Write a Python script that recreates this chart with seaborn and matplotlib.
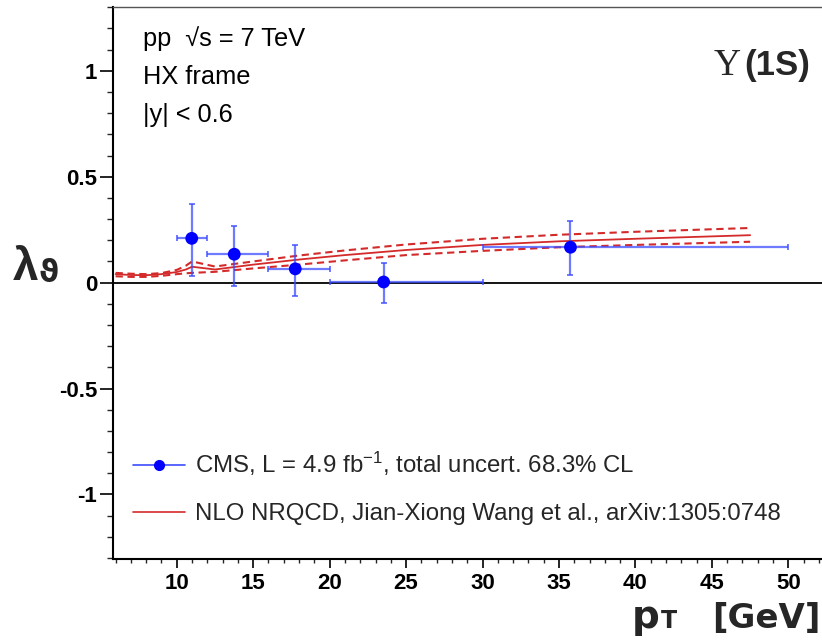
import numpy as np
import pandas as pd
import matplotlib
matplotlib.use("Agg")
import matplotlib.pyplot as plt
import seaborn as sns
from matplotlib.ticker import MultipleLocator
from matplotlib.lines import Line2D

# ---- data ----
pt_center = [10.98, 13.76, 17.75, 23.53, 35.75]
pt_low = [10.0, 12.0, 16.0, 20.0, 30.0]
pt_high = [12.0, 16.0, 20.0, 30.0, 50.0]
lam = [0.209, 0.134, 0.065, 0.003, 0.167]
lam_low = [0.033, -0.014, -0.063, -0.096, 0.036]
lam_high = [0.370, 0.267, 0.179, 0.093, 0.290]

theory_pt = [6, 7, 8, 9, 10, 10.6, 11, 12.5, 15, 18, 21, 25, 30, 35, 40, 47.5]
theory_central = [0.040, 0.036, 0.035, 0.040, 0.050, 0.062, 0.075, 0.062, 0.085,
                  0.109, 0.130, 0.154, 0.178, 0.195, 0.207, 0.224]
theory_upper = [0.046, 0.042, 0.040, 0.045, 0.060, 0.080, 0.100, 0.076, 0.100,
                0.128, 0.152, 0.180, 0.207, 0.226, 0.240, 0.258]
theory_lower = [0.030, 0.027, 0.027, 0.032, 0.040, 0.044, 0.046, 0.051, 0.067,
                0.085, 0.105, 0.130, 0.150, 0.167, 0.178, 0.193]

y_tick_values = [-1.0, -0.5, 0.0, 0.5, 1.0]
y_tick_labels = ["-1", "-0.5", "0", "0.5", "1"]
x_tick_values = [10, 15, 20, 25, 30, 35, 40, 45, 50]
x_tick_labels = ["10", "15", "20", "25", "30", "35", "40", "45", "50"]

label_cms = r"CMS, L = 4.9 fb$^{-1}$, total uncert. 68.3% CL"
label_theory = "NLO NRQCD, Jian-Xiong Wang et al., arXiv:1305:0748"
info_lines = ["pp  \u221as = 7 TeV", "HX frame", "|y| < 0.6"]

# ---- style ----
sns.set_theme(style="ticks")
plt.rcParams["font.family"] = ["Liberation Sans", "DejaVu Sans"]
plt.rcParams["mathtext.fontset"] = "custom"
plt.rcParams["mathtext.rm"] = "Liberation Sans"
plt.rcParams["mathtext.it"] = "Liberation Sans:italic"
plt.rcParams["mathtext.bf"] = "Liberation Sans:bold"
plt.rcParams["axes.unicode_minus"] = False

W, H = 822, 640
fig = plt.figure(figsize=(W / 100, H / 100), dpi=100)
fig.patch.set_facecolor("white")
ax_left, ax_right, ax_top, ax_bottom = 113.3, 822.0, 7.3, 559.0
ax = fig.add_axes([ax_left / W, 1 - ax_bottom / H,
                   (ax_right - ax_left) / W, (ax_bottom - ax_top) / H])
ax.set_facecolor("white")

ax.set_xlim(5.85, 52.2)
ax.set_ylim(-1.305, 1.30)

# zero line
ax.axhline(0, color="black", lw=1.3, zorder=1)

# theory
df_th = pd.DataFrame({"pt": theory_pt, "c": theory_central,
                      "u": theory_upper, "l": theory_lower})
red = "#d42a2a"
sns.lineplot(data=df_th, x="pt", y="c", ax=ax, color=red, lw=1.3, zorder=3)
sns.lineplot(data=df_th, x="pt", y="u", ax=ax, color=red, lw=1.5,
             linestyle=(0, (3.5, 2.2)), zorder=3)
sns.lineplot(data=df_th, x="pt", y="l", ax=ax, color=red, lw=1.5,
             linestyle=(0, (3.5, 2.2)), zorder=3)

# data
pc = np.array(pt_center)
ly = np.array(lam)
xerr = [pc - np.array(pt_low), np.array(pt_high) - pc]
yerr = [ly - np.array(lam_low), np.array(lam_high) - ly]
ax.errorbar(pc, ly, xerr=xerr, yerr=yerr, fmt="none", ecolor="#3d4dff",
            elinewidth=1.6, capsize=2.5, capthick=1.4, alpha=0.75, zorder=4)
df_pts = pd.DataFrame({"pt": pt_center, "lam": lam})
sns.scatterplot(data=df_pts, x="pt", y="lam", ax=ax, color="#0000ff", s=85,
                edgecolor="none", zorder=5)

# axes styling
ax.set_xlabel("")
ax.set_ylabel("")
for s in ["left", "bottom"]:
    ax.spines[s].set_color("black")
    ax.spines[s].set_linewidth(1.5)
ax.spines["top"].set_color("#555555")
ax.spines["top"].set_linewidth(1.0)
ax.spines["right"].set_visible(False)

ax.set_xticks(x_tick_values)
ax.set_xticklabels(x_tick_labels)
ax.set_yticks(y_tick_values)
ax.set_yticklabels(y_tick_labels)
ax.xaxis.set_minor_locator(MultipleLocator(1))
ax.yaxis.set_minor_locator(MultipleLocator(0.1))
ax.tick_params(axis="x", which="major", direction="out", length=6.5, width=1.2,
               pad=3.5, labelsize=16, colors="black")
ax.tick_params(axis="x", which="minor", direction="out", length=3.2, width=1.0)
ax.tick_params(axis="y", which="major", direction="out", length=9.5, width=1.2,
               pad=2.2, labelsize=16, colors="black")
ax.tick_params(axis="y", which="minor", direction="out", length=4.5, width=1.0)
for t in ax.get_xticklabels() + ax.get_yticklabels():
    t.set_fontweight("bold")

# legend
handles = [
    Line2D([], [], color="#3d4dff", lw=1.2, marker="o", markersize=7,
           markerfacecolor="#0000ff", markeredgecolor="#0000ff"),
    Line2D([], [], color=red, lw=1.2),
]
x0 = (133 - ax_left) / (ax_right - ax_left)
y0 = (ax_bottom - 450) / (ax_bottom - ax_top)
leg = ax.legend(handles, [label_cms, label_theory], loc="upper left",
                bbox_to_anchor=(x0, y0), frameon=False, fontsize=17.3,
                handlelength=2.15, handletextpad=0.42, labelspacing=1.05,
                borderpad=0, borderaxespad=0)

# info texts
for txt, yb in zip(info_lines, [46, 84, 122]):
    fig.text(143 / W, 1 - yb / H, txt, fontsize=18.3, ha="left", va="baseline",
             color="black")

# Upsilon label
fig.text(741 / W, 1 - 75 / H, "\u03a5", fontsize=27, ha="right", va="baseline",
         family=["Liberation Serif", "DejaVu Serif"])
fig.text(810 / W, 1 - 75 / H, "(1S)", fontsize=25, ha="right", va="baseline",
         fontweight="bold")

# axis titles
fig.text(13 / W, 1 - 280 / H, "\u03bb", fontsize=33, ha="left", va="baseline",
         fontweight="bold", family=["Liberation Sans", "DejaVu Sans"])
fig.text(39 / W, 1 - 282 / H, "\u03d1", fontsize=22, ha="left", va="baseline",
         fontweight="bold", family=["DejaVu Sans"])

fig.text(632 / W, 1 - 628 / H, "p", fontsize=28, ha="left", va="baseline",
         fontweight="bold", family=["DejaVu Sans"])
fig.text(661 / W, 1 - 628 / H, "T", fontsize=17, ha="left", va="baseline",
         fontweight="bold", family=["DejaVu Sans"])
fig.text(820 / W, 1 - 628 / H, "[GeV]", fontsize=24.5, ha="right", va="baseline",
         fontweight="bold", family=["DejaVu Sans"])

fig.savefig("out.png", dpi=100)
